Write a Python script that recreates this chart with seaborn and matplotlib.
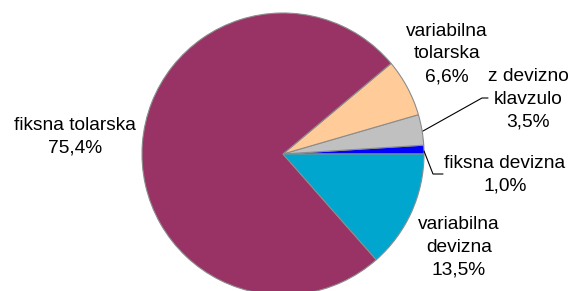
import numpy as np
import matplotlib
matplotlib.use('Agg')
from matplotlib import pyplot as plt
import seaborn as sns

# deleži posojil (v %)
names = ['fiksna devizna', 'z devizno\nklavzulo', 'variabilna\ntolarska',
         'fiksna tolarska', 'variabilna\ndevizna']
shares = [1.0, 3.5, 6.6, 75.4, 13.5]
colors = ['#0000FF', '#C0C0C0', '#FFCC99', '#993366', '#00A6CE']

sns.set_theme(style='white')
plt.rcParams['font.family'] = ['Liberation Sans', 'DejaVu Sans']

# pixel helpers: pie center (283,154), radius 141 px
cx, cy, r = 283, 154, 141
def px(x, y):
    return ((x - cx) / r, (cy - y) / r)

fig = plt.figure(figsize=(5.74, 2.91), dpi=100)
ax = fig.add_axes([0, 0, 1, 1])
ax.pie(shares, colors=colors, startangle=0, counterclock=True, radius=1,
       wedgeprops=dict(edgecolor='#8C8C8C', linewidth=0.8))
ax.set_xlim(px(0, 0)[0], px(574, 0)[0])
ax.set_ylim(px(0, 291)[1], px(0, 0)[1])
ax.set_aspect('auto')
ax.axis('off')

# label positions (pixels)
label_pos = [(505, 175), (528, 99), (447, 54), (75, 137), (459, 247)]
for name, v, (x, y) in zip(names, shares, label_pos):
    txt = name + '\n' + '{:.1f}'.format(v).replace('.', ',') + '%'
    ax.text(*px(x, y), txt, ha='center', va='center', fontsize=13.8,
            linespacing=1.45, color='black')

# leader lines
l1 = np.array([px(423, 131), px(482, 98), px(488, 98)])
ax.plot(l1[:, 0], l1[:, 1], color='black', lw=0.8)
l2 = np.array([px(424, 151), px(433, 174), px(443, 174)])
ax.plot(l2[:, 0], l2[:, 1], color='black', lw=0.8)

fig.savefig('out.png', dpi=100)
